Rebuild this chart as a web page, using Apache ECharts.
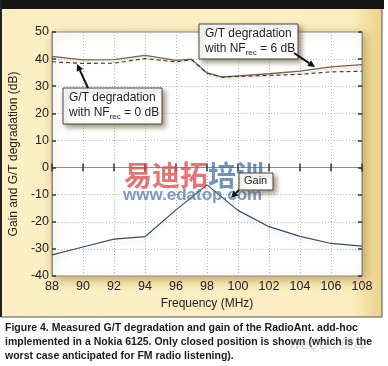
<!DOCTYPE html>
<html>
<head>
<meta charset="utf-8">
<script src="https://cdn.jsdelivr.net/npm/echarts@6/dist/echarts.min.js"></script>
<style>
html,body{margin:0;padding:0;background:#fff;}
#c{width:388px;height:366px;}
</style>
</head>
<body>
<div id="c"></div>
<script>
// ---- data ----
var gtFreq = [88, 90, 92, 94, 96, 97, 98, 99, 100, 102, 104, 106, 108];
var gtNF6 = [41.0, 39.7, 39.8, 41.4, 39.5, 40.0, 34.9, 33.4, 33.8, 34.6, 35.6, 37.1, 38.0];
var gtNF0 = [39.0, 38.4, 38.5, 40.2, 39.0, 39.8, 34.8, 33.3, 33.6, 34.0, 34.4, 35.3, 35.5];
var gainFreq = [88, 90, 92, 94, 96, 98, 100, 102, 104, 106, 108];
var gainVals = [-32.2, -29.3, -26.4, -25.5, -15.6, -6.4, -15.8, -21.8, -25.4, -28.0, -29.0];
var xTicks = {min: 88, max: 108, step: 2};
var yTicks = {min: -40, max: 50, step: 10};
var yTitle = 'Gain and G/T degradation (dB)';
var xTitle = 'Frequency (MHz)';
var captionLines = [
  'Figure 4. Measured G/T degradation and gain of the RadioAnt. add-hoc',
  'implemented in a Nokia 6125. Only closed position is shown (which is the',
  'worst case anticipated for FM radio listening).'
];

function pairs(xs, ys) { return xs.map(function (x, i) { return [x, ys[i]]; }); }

var FONT = '"Liberation Sans", Arial, Helvetica, sans-serif';
var chart = echarts.init(document.getElementById('c'), null, {renderer: 'canvas'});

var tickStyle = {show: true, inside: true, length: 4, lineStyle: {color: '#333', width: 1.5}};
var axisLineStyle = {show: true, lineStyle: {color: '#8a8a8a', width: 1}};

function annBox(x, y, w, h) {
  return {
    type: 'rect', z: 100,
    shape: {x: x, y: y, width: w, height: h},
    style: {fill: '#fff', stroke: '#444', lineWidth: 1,
      shadowBlur: 5, shadowColor: 'rgba(90,70,30,0.55)', shadowOffsetX: 3, shadowOffsetY: 3}
  };
}
function annText(x, y, t, size) {
  return {
    type: 'text', z: 101, x: x, y: y,
    style: {text: t, fill: '#222', font: (size || 12) + 'px ' + FONT, textVerticalAlign: 'middle',
      rich: {sub: {fontSize: 8, fill: '#222', fontFamily: FONT, padding: [7, 0, 0, 0]}}}
  };
}
function arrow(x1, y1, x2, y2) {
  var dx = x2 - x1, dy = y2 - y1, L = Math.sqrt(dx * dx + dy * dy);
  var ux = dx / L, uy = dy / L, hl = 7, hw = 3.5;
  var bx = x2 - ux * hl, by = y2 - uy * hl;
  return [
    {type: 'line', z: 102, shape: {x1: x1, y1: y1, x2: bx, y2: by}, style: {stroke: '#111', lineWidth: 2}},
    {type: 'polygon', z: 102, shape: {points: [[x2, y2], [bx - uy * hw, by + ux * hw], [bx + uy * hw, by - ux * hw]]},
      style: {fill: '#111'}}
  ];
}

var graphics = [
  // panel
  {type: 'rect', z: -10, shape: {x: 1, y: 0, width: 381, height: 317},
    style: {fill: new echarts.graphic.LinearGradient(0, 0, 1, 0, [
      {offset: 0, color: '#FCEFC4'}, {offset: 0.92, color: '#FBEDC0'}, {offset: 1, color: '#EBD188'}]),
      stroke: '#555', lineWidth: 1}},
  {type: 'rect', z: -9, shape: {x: 0, y: 0, width: 384, height: 9}, style: {fill: '#161616'}},
  {type: 'rect', z: -9, shape: {x: 0, y: 0, width: 2, height: 317}, style: {fill: '#222'}},
  // watermark
  {type: 'text', z: 90, x: 124, y: 175, style: {text: '易迪拓', fill: 'rgba(220,70,70,0.75)',
    font: 'bold 28px "Noto Sans CJK SC", sans-serif', textVerticalAlign: 'middle'}},
  {type: 'text', z: 90, x: 208, y: 175, style: {text: '培训', fill: 'rgba(70,110,170,0.75)',
    font: 'bold 28px "Noto Sans CJK SC", sans-serif', textVerticalAlign: 'middle'}},
  {type: 'text', z: 90, x: 123, y: 195, style: {text: 'www.edatop.com', fill: 'rgba(80,120,170,0.75)',
    font: 'bold 17px ' + FONT, textVerticalAlign: 'middle'}},
  // annotations
  annBox(199, 24, 99, 35),
  annText(205, 34, 'G/T degradation'),
  annText(205, 49, 'with NF{sub|rec} = 6 dB'),
  annBox(63, 88, 99, 36),
  annText(69, 98, 'G/T degradation'),
  annText(69, 113, 'with NF{sub|rec} = 0 dB'),
  annBox(239, 173, 34, 17),
  annText(244, 181, 'Gain', 11)
].concat(arrow(294, 53, 315, 67), arrow(88, 88, 77, 64), arrow(239, 190, 231, 198));

// caption
captionLines.forEach(function (t, i) {
  graphics.push({type: 'text', z: 10, x: 5, y: 328 + i * 14,
    style: {text: t, fill: '#1a1a1a', font: 'bold 10.5px ' + FONT, textVerticalAlign: 'middle'}});
});
graphics.push({type: 'text', z: 11, x: 288, y: 344,
  style: {text: 'WeQoo 维库', fill: 'rgba(150,150,150,0.4)', font: 'italic 14px "Noto Sans CJK SC", sans-serif',
    textVerticalAlign: 'middle'}});

chart.setOption({
  animation: false,
  backgroundColor: 'transparent',
  textStyle: {fontFamily: FONT},
  grid: {left: 50, top: 32, width: 312, height: 244, show: true, backgroundColor: '#fff',
    borderColor: '#888', borderWidth: 1,
    shadowBlur: 10, shadowColor: 'rgba(160,115,30,0.6)', shadowOffsetX: 3, shadowOffsetY: 3},
  graphic: {elements: graphics},
  xAxis: [{
    type: 'value', min: xTicks.min, max: xTicks.max, interval: xTicks.step, position: 'bottom',
    name: xTitle, nameLocation: 'middle', nameGap: 22,
    nameTextStyle: {fontSize: 12, color: '#222', fontFamily: FONT},
    axisLine: axisLineStyle, axisTick: tickStyle,
    axisLabel: {fontSize: 12.5, color: '#222', margin: 4, fontFamily: FONT},
    splitLine: {show: true, lineStyle: {color: '#b5b5b5', type: [1, 2], width: 1}}
  }, {
    type: 'value', min: xTicks.min, max: xTicks.max, interval: xTicks.step, position: 'top',
    axisLine: axisLineStyle, axisTick: tickStyle, axisLabel: {show: false}, splitLine: {show: false}
  }],
  yAxis: [{
    type: 'value', min: yTicks.min, max: yTicks.max, interval: yTicks.step, position: 'left',
    name: yTitle, nameLocation: 'middle', nameGap: 22,
    nameTextStyle: {fontSize: 12, color: '#222', fontFamily: FONT},
    axisLine: axisLineStyle, axisTick: tickStyle,
    axisLabel: {fontSize: 12.5, color: '#222', margin: 3, fontFamily: FONT},
    splitLine: {show: true, lineStyle: {color: '#b5b5b5', type: [1, 2], width: 1}}
  }, {
    type: 'value', min: yTicks.min, max: yTicks.max, interval: yTicks.step, position: 'right',
    axisLine: axisLineStyle, axisTick: tickStyle, axisLabel: {show: false}, splitLine: {show: false}
  }],
  series: [{
    name: 'G/T NF6', type: 'line', data: pairs(gtFreq, gtNF6), showSymbol: false, z: 5,
    lineStyle: {color: '#74664f', width: 1.3, shadowColor: 'rgba(200,160,140,0.5)', shadowBlur: 3, shadowOffsetY: 2}
  }, {
    name: 'G/T NF0', type: 'line', data: pairs(gtFreq, gtNF0), showSymbol: false, z: 6,
    lineStyle: {color: '#3a3530', width: 1.1, type: [4, 3]}
  }, {
    name: 'Gain', type: 'line', data: pairs(gainFreq, gainVals), showSymbol: false, z: 5,
    lineStyle: {color: '#3b4a5c', width: 1.2, shadowColor: 'rgba(140,185,220,0.35)', shadowBlur: 4, shadowOffsetY: 4}
  }]
});
</script>
</body>
</html>
